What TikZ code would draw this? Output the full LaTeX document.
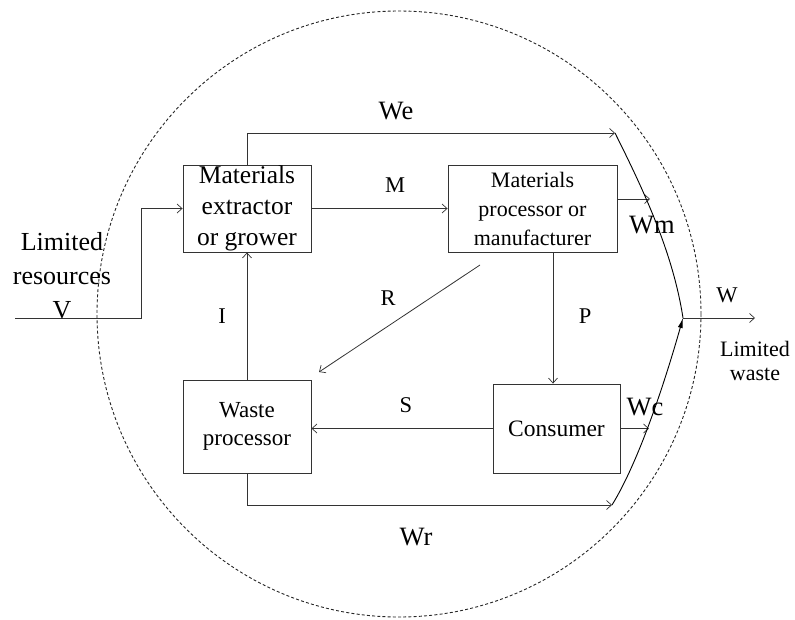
\documentclass[tikz,border=0pt]{standalone}
\usepackage{fontspec}
\setmainfont{Liberation Serif}
\usetikzlibrary{arrows.meta}
\begin{document}
\begin{tikzpicture}[x=1pt,y=-1pt,
  line width=0.8pt,
  flow/.style={draw=black!80, -{Straight Barb[length=5pt,width=9pt,line width=0.7pt]}},
  curve/.style={draw=black, line width=0.9pt},
  stage/.style={draw=black!80, line width=0.9pt, align=center, inner sep=0pt},
  biglbl/.style={font=\fontsize{26.5}{30}\selectfont, inner sep=0pt, anchor=base},
  lbl/.style={font=\fontsize{22.5}{25}\selectfont, inner sep=0pt, anchor=base}]
\useasboundingbox (0,0) rectangle (795,619);

% system boundary
\draw[black!85, line width=0.9pt, dash pattern=on 3pt off 2.2pt] (399,314) ellipse [x radius=302, y radius=303];

% the four stages
\node[stage, minimum width=128, minimum height=87, font=\fontsize{25.5}{31}\selectfont]
  (ext) at (247,208.5) {Materials\\extractor\\or grower};
\node[stage, minimum width=169, minimum height=87, font=\fontsize{22}{29}\selectfont]
  (mfr) at (532.5,208.5) {Materials\\processor or\\manufacturer};
\node[stage, minimum width=128, minimum height=93, font=\fontsize{23}{28}\selectfont]
  (wproc) at (247,426.5) {Waste\\processor};
\node[stage, minimum width=127, minimum height=89, font=\fontsize{23.5}{28}\selectfont]
  (cons) at (556.5,428.5) {Consumer};

% helper points
\coordinate (vin) at (15,318);
\coordinate (vbend) at (141,318);
\coordinate (weend) at (615,133);
\coordinate (wmend) at (650,199);
\coordinate (wcend) at (649,428.5);
\coordinate (wrend) at (612,505);
\coordinate (join) at (683,318);
\coordinate (wout) at (755,318);
\coordinate (rstart) at (480,265);
\coordinate (rend) at (319,372);
\coordinate (pline) at (553,0);

% material flows
\draw[flow] (vin) -- (vbend) |- (ext.west);
\draw[flow] (ext.east) -- (mfr.west);
\draw[flow] (rstart) -- (rend);
\draw[flow] (mfr.south -| pline) -- (cons.north -| pline);
\draw[flow] (cons.west) -- (cons.west -| wproc.east);
\draw[flow] (wproc.north) -- (ext.south);

% waste streams
\draw[flow] (ext.north) |- (weend);
\draw[flow] (mfr.east |- wmend) -- (wmend);
\draw[flow] (cons.east) -- (wcend);
\draw[flow] (wproc.south) |- (wrend);
\draw[curve] (weend) .. controls (644,191) and (673,253) .. (join);
\draw[curve, -{Latex[length=10pt,width=5pt]}] (wrend) .. controls (641,458) and (668,371) .. (join);
\draw[flow] (join) -- (wout);

% labels
\node[biglbl, align=center, anchor=center, font=\fontsize{26}{34}\selectfont] (vlbl) at (62,276) {Limited\\resources\\V};
\node[biglbl] (welbl) at (396,119) {We};
\node[biglbl] (wrlbl) at (416,545) {Wr};
\node[biglbl] (wmlbl) at (652,233) {Wm};
\node[biglbl] (wclbl) at (645,415) {Wc};
\node[lbl] (mlbl) at (395,192) {M};
\node[lbl] (rlbl) at (388,305) {R};
\node[lbl] (ilbl) at (222,323) {I};
\node[lbl] (plbl) at (585,323) {P};
\node[lbl] (slbl) at (406,412) {S};
\node[lbl] (wlbl) at (727,302) {W};
\node[lbl, align=center, anchor=center, font=\fontsize{22}{24}\selectfont] (lwlbl) at (755,361) {Limited\\waste};
\end{tikzpicture}
\end{document}
